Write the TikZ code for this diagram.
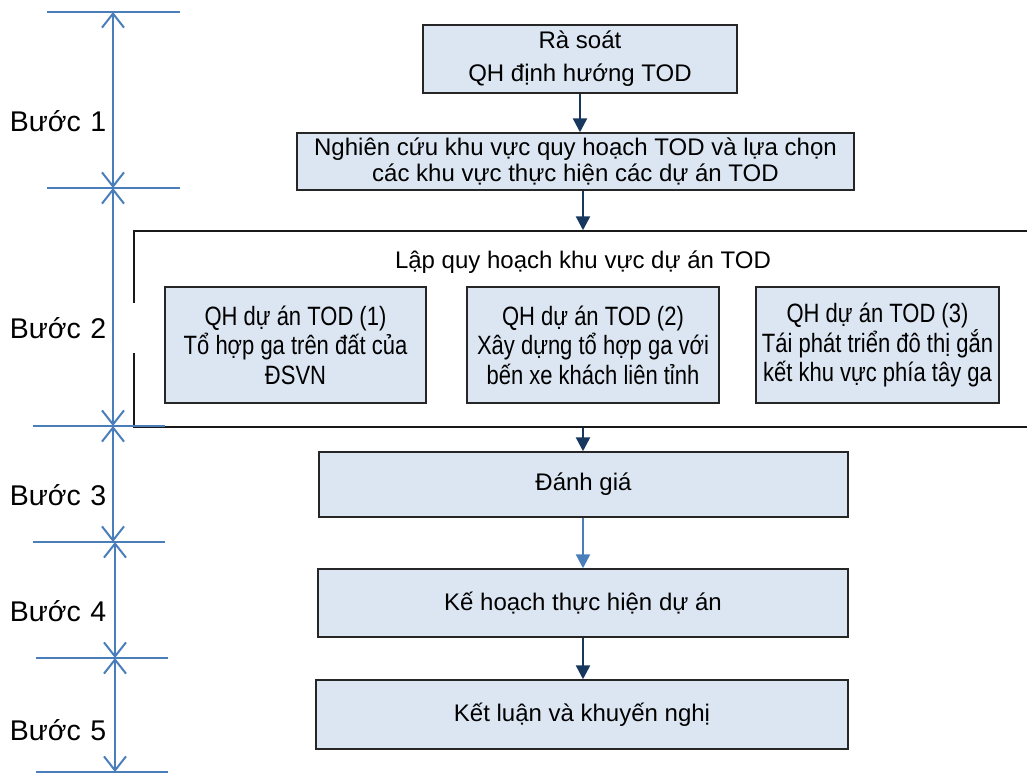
\documentclass[tikz,border=0pt]{standalone}
\usepackage{fontspec}
\setmainfont{Liberation Sans}
\newfontfamily\narrowsans[FakeStretch=0.83]{Liberation Sans}
\usepackage{tikz}
\usetikzlibrary{arrows.meta}
\definecolor{boxfill}{HTML}{DCE6F2}
\definecolor{navy}{HTML}{17375E}
\definecolor{scaleblue}{HTML}{4A7EBB}

\begin{document}
\begin{tikzpicture}[x=1pt, y=-1pt,
  box/.style={draw=black!85, line width=1.5pt, fill=boxfill, inner sep=0pt, align=center, font=\fontsize{24}{29}\selectfont},
  todbox/.style={box, minimum height=116pt, font=\narrowsans\fontsize{26.5}{29.5}\selectfont},
  frame/.style={draw=black!90, line width=1.5pt, fill=white, inner sep=0pt},
  flow/.style={-{Triangle[length=14pt,width=14pt]}, navy, line width=2.5pt},
  span/.style={{Straight Barb[length=14pt,width=22pt]}-{Straight Barb[length=14pt,width=22pt]}, scaleblue, line width=2pt},
  tick/.style={scaleblue, line width=1.5pt},
  steplabel/.style={fill=white, anchor=east, text width=124pt, inner xsep=2pt, inner ysep=0pt, minimum height=50pt, text height=20.4pt, text depth=0pt, font=\fontsize{28.5}{33}\selectfont}]
  \useasboundingbox (0,0) rectangle (1027,774);
  \clip (0,0) rectangle (1027,774);

  % buoc 1
  \node[box, minimum width=314pt, minimum height=68pt] (RS) at (580,59) {R\`a so\'at\\[4pt]QH định hướng TOD};
  \node[box, minimum width=557pt, minimum height=57pt] (NC) at (575.5,161.5) {Nghiên cứu khu vực quy hoạch TOD và lựa chọn\\[-3pt]các khu vực thực hiện các dự án TOD};

  % buoc 2
  \node[frame, minimum width=901pt, minimum height=196pt] (LQH) at (584.5,329) {};
  \node[anchor=base, font=\fontsize{24}{29}\selectfont] (LQHT) at (583,268) {Lập quy hoạch khu vực dự án TOD};
  \node[todbox, minimum width=261pt] (TOD1) at (295.5,345) {QH dự án TOD (1)\\Tổ hợp ga trên đất của\\ĐSVN};
  \node[todbox, minimum width=252pt] (TOD2) at (593,345) {QH dự án TOD (2)\\Xây dựng tổ hợp ga với\\bến xe khách liên tỉnh};
  \node[todbox, minimum width=243pt] (TOD3) at (877.5,345) {QH dự án TOD (3)\\Tái phát triển đô thị gắn\\kết khu vực phía tây ga};

  % buoc 3-5
  \node[box, minimum width=529pt, minimum height=65pt] (DG) at (583.5,484.5) {Đánh giá};
  \node[box, minimum width=530pt, minimum height=68pt] (KH) at (583,603) {Kế hoạch thực hiện dự án};
  \node[box, minimum width=532pt, minimum height=69pt] (KL) at (582,714.5) {Kết luận và khuyến nghị};

  \coordinate (MID) at (583,0);
  \draw[flow] (RS.south) -- (RS.south |- NC.north);
  \draw[flow] (NC.south -| MID) -- (LQH.north -| MID);
  \draw[flow] (LQH.south -| MID) -- (DG.north -| MID);
  \draw[flow, scaleblue] (DG.south -| MID) -- (KH.north -| MID);
  \draw[flow] (KH.south -| MID) -- (KL.north -| MID);

  % thang buoc
  \node[steplabel] (B1) at (136,121) {Bước 1};
  \node[steplabel] (B2) at (136,328) {Bước 2};
  \node[steplabel] (B3) at (136,495.5) {Bước 3};
  \node[steplabel] (B4) at (136,611) {Bước 4};
  \node[steplabel] (B5) at (136,730) {Bước 5};

  \foreach \y/\a/\b in {12/47/180, 188/47/180, 426/33/165, 542/33/165, 658/36/168, 772/36/168}
    \draw[tick] (\a,\y) -- (\b,\y);
  \foreach \ya/\yb/\x in {12/188/113, 188/426/113, 426/542/113, 542/658/115, 658/772/115}
    \draw[span] (\x,\ya) -- (\x,\yb);
\end{tikzpicture}
\end{document}
